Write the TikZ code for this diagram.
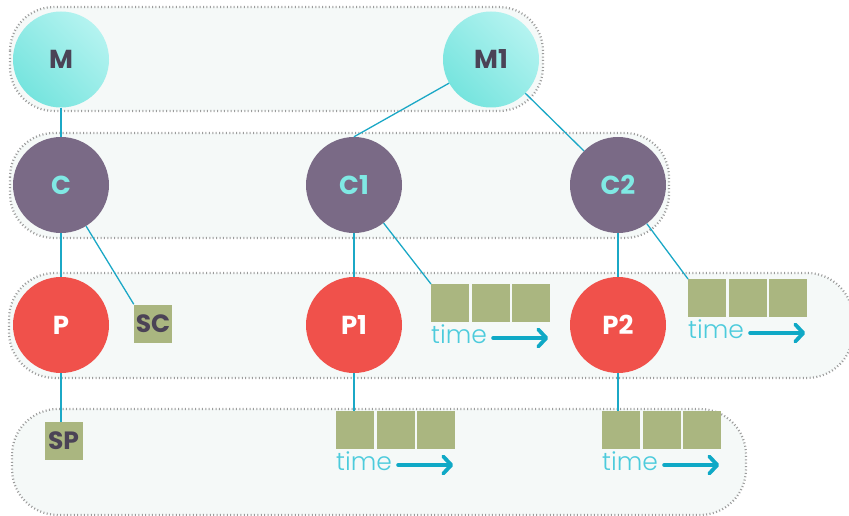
\documentclass[tikz,border=0pt]{standalone}
\usepackage{fontspec}
\setmainfont{Poppins}
\newfontfamily\lightfont{Poppins Light}
\usetikzlibrary{arrows.meta}
\definecolor{bandfill}{HTML}{F5F9F8}
\definecolor{dotgray}{HTML}{9C9C9C}
\definecolor{mcyan}{HTML}{76E4DE}
\definecolor{mcyanlight}{HTML}{B4F3F0}
\definecolor{cpurple}{HTML}{7A6A86}
\definecolor{pred}{HTML}{F0514B}
\definecolor{olive}{HTML}{AAB680}
\definecolor{lbldark}{HTML}{4B4356}
\definecolor{ctext}{HTML}{80E9E4}
\definecolor{linecol}{HTML}{1BA8C6}
\definecolor{timecol}{HTML}{4CCBDC}
\definecolor{arrowcol}{HTML}{0FA9C6}
\tikzset{
  band/.style={draw=dotgray, fill=bandfill, line width=2.2pt, dash pattern=on 1pt off 2.4pt, rounded corners=44pt},
  mnode/.style={circle, minimum size=96pt, inner sep=0pt, top color=mcyanlight, bottom color=mcyan, shading angle=-45, text=lbldark, font=\fontsize{26}{26}\selectfont\bfseries},
  cnode/.style={circle, minimum size=96pt, inner sep=0pt, fill=cpurple, text=ctext, font=\fontsize{26}{26}\selectfont\bfseries},
  pnode/.style={circle, minimum size=96pt, inner sep=0pt, fill=pred, text=white, font=\fontsize{26}{26}\selectfont\bfseries},
  tag/.style={fill=olive, minimum width=38pt, minimum height=38pt, inner sep=0pt, text=lbldark, font=\fontsize{25}{25}\selectfont\bfseries},
  sq/.style={fill=olive, minimum width=38pt, minimum height=38pt, inner sep=0pt},
  timelbl/.style={inner sep=0pt, text=timecol, font=\fontsize{25}{25}\selectfont\lightfont},
  conn/.style={draw=linecol, line width=1.3pt},
  timearrow/.style={draw=arrowcol, line width=3.8pt, line cap=round, -{Straight Barb[length=8pt,width=17pt,line cap=round,line join=round]}}
}
\newcommand\mkqueue[3]{%
  \node[sq, anchor=north west] (#1a) at (#2,#3) {};
  \node[sq, anchor=north west] (#1b) at ([xshift=2pt]#1a.north east) {};
  \node[sq, anchor=north west] (#1c) at ([xshift=2pt]#1b.north east) {};
  \node[timelbl, anchor=base west] (#1t) at ([yshift=-21pt,xshift=0pt]#1a.south west) {time};
  \coordinate (#1s) at ([xshift=6pt]#1t.base east |- 0,{#3+54});
  \coordinate (#1e) at ([xshift=-2pt]#1c.south east |- #1s);
  \draw[timearrow] (#1s) -- (#1e);
}
\begin{document}
\begin{tikzpicture}[x=1pt,y=-1pt]
\useasboundingbox (0,0) rectangle (849,516);
% bands
\draw[band] (10,7) rectangle (543,111);
\draw[band] (10,133) rectangle (669,238);
\draw[band, rounded corners=46pt] (9,273) rectangle (853,378);
\draw[band, rounded corners=46pt] (12,409) rectangle (746,515);
% circles
\node[mnode] (M) at (61,59.5) {M};
\node[mnode] (M1) at (491,59.5) {M1};
\node[cnode] (C) at (61,185) {C};
\node[cnode] (C1) at (354,185) {C1};
\node[cnode] (C2) at (618,185) {C2};
\node[pnode] (P) at (61,325) {P};
\node[pnode] (P1) at (354,325) {P1};
\node[pnode] (P2) at (618,325) {P2};
% tags
\node[tag] (SC) at (153,323.5) {SC};
\node[tag] (SP) at (63.5,441) {SP};
% queues
\mkqueue{qa}{431}{284}
\mkqueue{qb}{688}{279}
\mkqueue{qc}{336}{411}
\mkqueue{qd}{602}{411}
% connectors
\draw[conn] (M) -- (C);
\draw[conn] (M1) -- (C1.north);
\draw[conn] (M1) -- (C2.north west);
\draw[conn] (C) -- (P);
\draw[conn] (C1) -- (P1);
\draw[conn] (C2) -- (P2);
\draw[conn] (C) -- (SC.north west);
\draw[conn] (C1) -- (qaa.north west);
\draw[conn] (C2) -- (qba.north west);
\draw[conn] (P) -- (P |- SP.north);
\draw[conn] (P1) -- (P1 |- qca.north);
\draw[conn] (P2) -- (P2 |- qda.north);
\end{tikzpicture}
\end{document}
